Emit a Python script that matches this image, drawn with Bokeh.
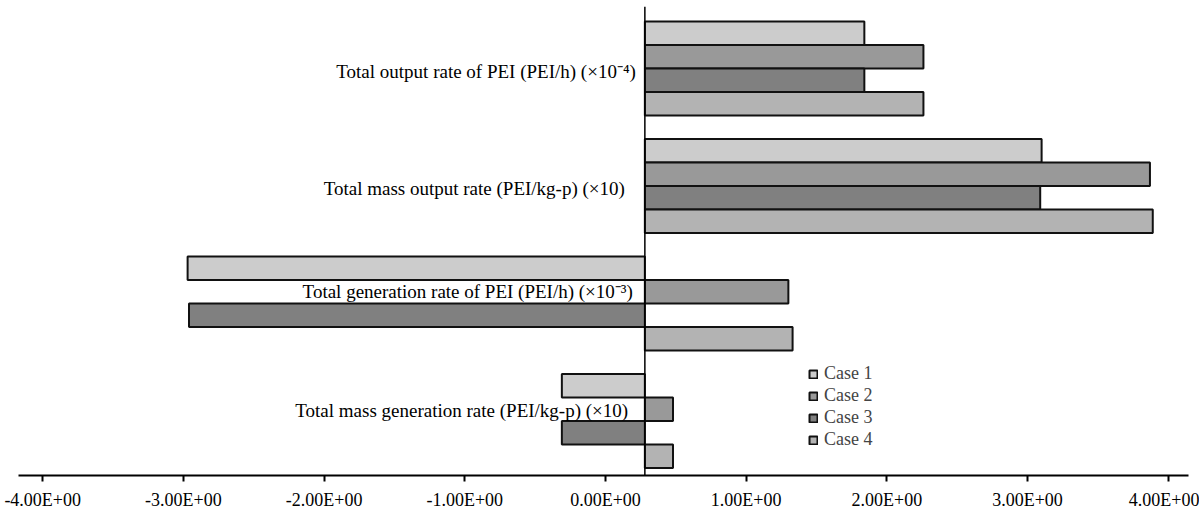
from bokeh.plotting import figure
from bokeh.models import ColumnDataSource, FixedTicker, Span, Legend, LegendItem, Range1d
from bokeh.core.properties import value
from bokeh.embed import file_html
from bokeh.resources import INLINE

# ---- data ----
CATEGORIES = [
    "Total output rate of PEI (PEI/h) (×10⁻⁴)",
    "Total mass output rate (PEI/kg-p) (×10)",
    "Total generation rate of PEI (PEI/h) (×10⁻³)",
    "Total mass  generation rate (PEI/kg-p) (×10)",
]
CASES = ["Case 1", "Case 2", "Case 3", "Case 4"]
CASE1 = [1.84, 3.10, -2.97, -0.31]
CASE2 = [2.26, 3.87, 1.30, 0.48]
CASE3 = [1.84, 3.09, -2.96, -0.31]
CASE4 = [2.26, 3.89, 1.33, 0.48]
TICKS = [-4, -3, -2, -1, 0, 1, 2, 3, 4]
TICK_LABELS = ["-4.00E+00", "-3.00E+00", "-2.00E+00", "-1.00E+00", "0.00E+00",
               "1.00E+00", "2.00E+00", "3.00E+00", "4.00E+00"]

# ---- style ----
BASE = 0.28                      # where the category axis crosses
COLORS = ["#cccccc", "#999999", "#808080", "#b3b3b3"]
OFFSETS = [0.3, 0.1, -0.1, -0.3]
BAR_H = 0.2
LABEL_DX = [-9, -20, -12, -12]
LABEL_DY = [3, 2, -12, -10]
FONT = "Liberation Serif"

n = len(CATEGORIES)
pos = [n - 1 - i for i in range(n)]

p = figure(width=1199, height=516, output_backend="svg", toolbar_location=None,
           x_range=Range1d(-4.172, 4.144), y_range=Range1d(-0.464, 3.528),
           min_border_left=18, min_border_right=11, min_border_top=6, min_border_bottom=41)
p.outline_line_color = None
p.xgrid.visible = False
p.ygrid.visible = False
p.yaxis.visible = False

series = [CASE1, CASE2, CASE3, CASE4]
renderers = []
for k, vals in enumerate(series):
    src = ColumnDataSource(dict(y=[pp + OFFSETS[k] for pp in pos], right=vals))
    r = p.hbar(y="y", left=BASE, right="right", height=BAR_H, source=src,
               fill_color=COLORS[k], line_color="#111111", line_width=2)
    renderers.append(r)

p.add_layout(Span(location=BASE, dimension="height", line_color="black", line_width=1.5))

lab = ColumnDataSource(dict(x=[BASE] * n, y=pos, text=CATEGORIES, dx=LABEL_DX, dy=LABEL_DY))
p.text(x="x", y="y", text="text", x_offset="dx", y_offset="dy", source=lab,
       text_align="right", text_baseline="middle", text_font=value(FONT),
       text_font_size="19px", text_color="black")

ax = p.xaxis[0]
ax.ticker = FixedTicker(ticks=TICKS)
ax.major_label_overrides = {t: l for t, l in zip(TICKS, TICK_LABELS)}
ax.axis_line_width = 2
ax.axis_line_color = "black"
ax.major_tick_line_width = 2
ax.major_tick_line_color = "black"
ax.major_tick_out = 6
ax.major_tick_in = 0
ax.minor_tick_out = 0
ax.minor_tick_in = 0
ax.major_label_text_font = FONT
ax.major_label_text_font_size = "18px"
ax.major_label_text_color = "black"
ax.major_label_standoff = 8

legend = Legend(items=[LegendItem(label=c, renderers=[r]) for c, r in zip(CASES, renderers)],
                location=(790, 25), orientation="vertical",
                glyph_width=10, glyph_height=10, label_standoff=6,
                label_text_font=FONT, label_text_font_size="18px",
                label_height=20, spacing=1, padding=0, margin=0,
                border_line_color=None, background_fill_alpha=0)
p.add_layout(legend, "center")

open("out.html", "w").write(file_html(p, INLINE))
